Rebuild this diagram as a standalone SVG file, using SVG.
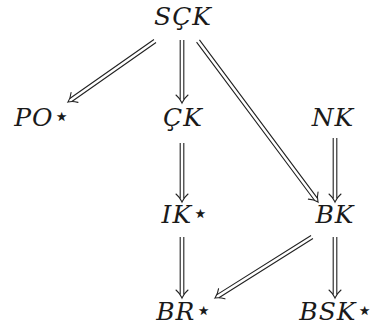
<svg xmlns="http://www.w3.org/2000/svg" width="377" height="333" viewBox="0 0 377 333">
  <style>
    text.lbl { font-family: 'DejaVu Serif', serif; font-style: italic; font-size: 25px; letter-spacing: 1px; fill: #1a1a1a; text-anchor: middle; }
    tspan.star { font-family: 'DejaVu Sans', sans-serif; font-style: normal; font-size: 26px; letter-spacing: 0; }
    .rail { fill: none; stroke: #222; stroke-width: 1.1; }
    .head { fill: none; stroke: #222; stroke-width: 1.1; stroke-linecap: round; }
  </style>
  <rect width="377" height="333" fill="#fff"/>

  <!-- nodes -->
  <g id="SCK"><text class="lbl" x="183" y="25">SÇK</text></g>
  <g id="PO"><text class="lbl" x="42" y="126">PO<tspan class="star" dy="-1">⋆</tspan></text></g>
  <g id="CK"><text class="lbl" x="183" y="126">ÇK</text></g>
  <g id="NK"><text class="lbl" x="333" y="126">NK</text></g>
  <g id="IK"><text class="lbl" x="185" y="223">IK<tspan class="star" dy="-1">⋆</tspan></text></g>
  <g id="BK"><text class="lbl" x="335" y="223">BK</text></g>
  <g id="BR"><text class="lbl" x="184" y="320">BR<tspan class="star" dy="-1">⋆</tspan></text></g>
  <g id="BSK"><text class="lbl" x="336" y="320">BSK<tspan class="star" dy="-1">⋆</tspan></text></g>

  <!-- double arrows (=>), drawn along +x then placed -->
  <g id="connectors">
    <g transform="translate(182 40) rotate(90)">
      <path class="rail" d="M0,-1.8 H59.5 M0,1.8 H59.5"/>
      <path class="head" d="M55,-6 C58,-2.5 61,-0.8 63,0 C61,0.8 58,2.5 55,6"/>
    </g>
    <g transform="translate(155 41) rotate(144.96)">
      <path class="rail" d="M0,-1.8 H102.8 M0,1.8 H102.8"/>
      <path class="head" d="M98.3,-6 C101.3,-2.5 104.3,-0.8 106.3,0 C104.3,0.8 101.3,2.5 98.3,6"/>
    </g>
    <g transform="translate(198 41) rotate(53.3)">
      <path class="rail" d="M0,-1.8 H197.3 M0,1.8 H197.3"/>
      <path class="head" d="M192.8,-6 C195.8,-2.5 198.8,-0.8 200.8,0 C198.8,0.8 195.8,2.5 192.8,6"/>
    </g>
    <g transform="translate(182 143) rotate(90)">
      <path class="rail" d="M0,-1.8 H55.5 M0,1.8 H55.5"/>
      <path class="head" d="M51,-6 C54,-2.5 57,-0.8 59,0 C57,0.8 54,2.5 51,6"/>
    </g>
    <g transform="translate(335 138) rotate(90)">
      <path class="rail" d="M0,-1.8 H60.5 M0,1.8 H60.5"/>
      <path class="head" d="M56,-6 C59,-2.5 62,-0.8 64,0 C62,0.8 59,2.5 56,6"/>
    </g>
    <g transform="translate(182 237) rotate(90)">
      <path class="rail" d="M0,-1.8 H57.5 M0,1.8 H57.5"/>
      <path class="head" d="M53,-6 C56,-2.5 59,-0.8 61,0 C59,0.8 56,2.5 53,6"/>
    </g>
    <g transform="translate(335 237) rotate(90)">
      <path class="rail" d="M0,-1.8 H57.5 M0,1.8 H57.5"/>
      <path class="head" d="M53,-6 C56,-2.5 59,-0.8 61,0 C59,0.8 56,2.5 53,6"/>
    </g>
    <g transform="translate(312 237) rotate(147.83)">
      <path class="rail" d="M0,-1.8 H111.1 M0,1.8 H111.1"/>
      <path class="head" d="M106.6,-6 C109.6,-2.5 112.6,-0.8 114.6,0 C112.6,0.8 109.6,2.5 106.6,6"/>
    </g>
  </g>
</svg>
